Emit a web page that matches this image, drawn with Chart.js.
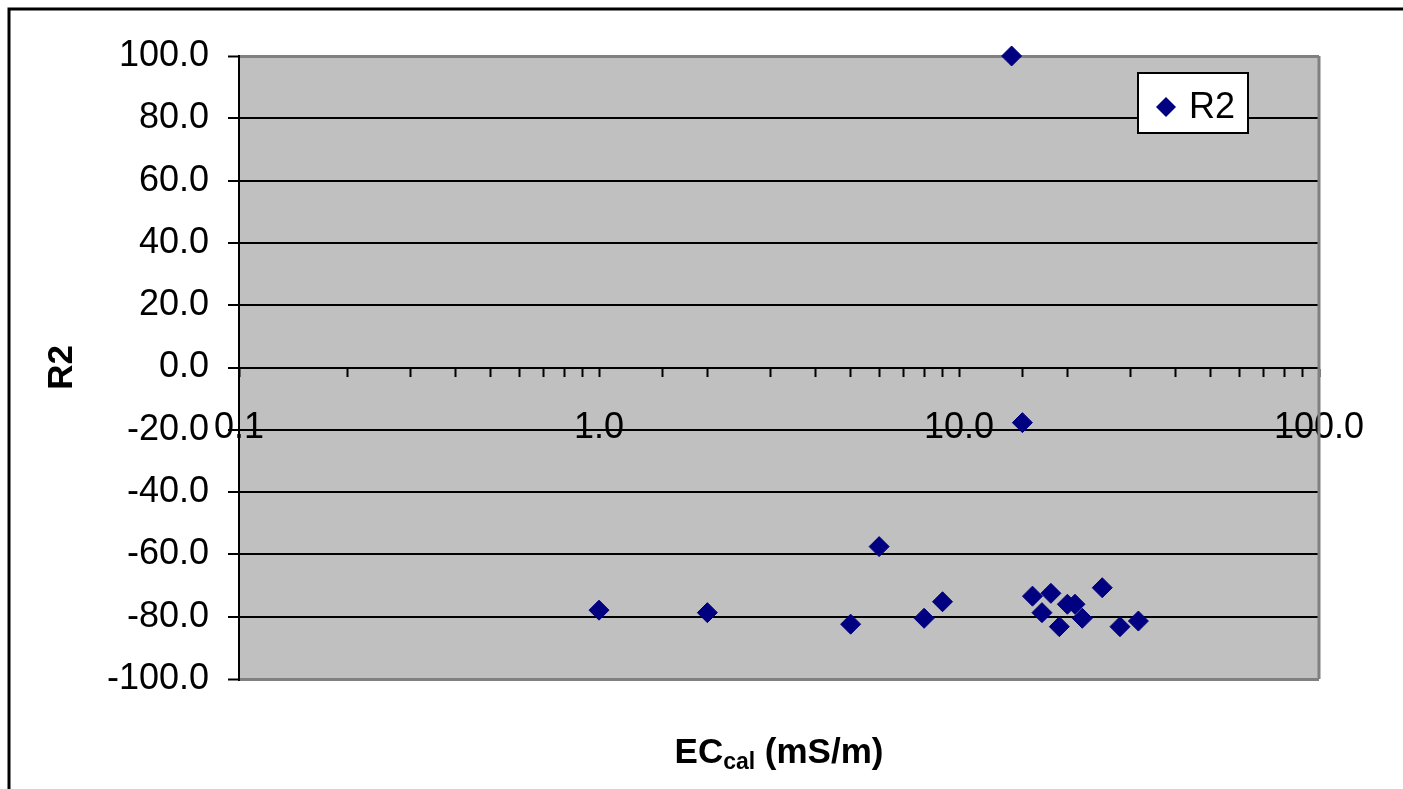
<!DOCTYPE html>
<html>
<head>
<meta charset="utf-8">
<script src="https://cdn.jsdelivr.net/npm/chart.js@4.4.0/dist/chart.umd.min.js"></script>
<style>
  html, body { margin: 0; padding: 0; background: #fff; }
  #wrap { width: 1403px; height: 789px; }
</style>
</head>
<body>
<div id="wrap"><canvas id="chart" width="1403" height="789"></canvas></div>
<script>
// values
var ecValues = [1.0, 2.0, 5.0, 6.0, 8.0, 9.0, 14.0, 15.0, 16.0, 17.0, 18.0, 19.0, 20.0, 21.0, 22.0, 25.0, 28.0, 31.5];
var r2Values = [-77.9, -78.7, -82.4, -57.5, -80.5, -75.2, 100.0, -17.7, -73.4, -78.7, -72.5, -83.2, -76.0, -76.0, -80.5, -70.7, -83.2, -81.4];
var seriesName = 'R2';
var yTitle = 'R2';
var xTitleMain = 'EC';
var xTitleSub = 'cal';
var xTitleUnit = ' (mS/m)';

var FONT = '"Liberation Sans", Arial, sans-serif';
var NAVY = '#000080';

var points = ecValues.map(function(x, i) { return { x: x, y: r2Values[i] }; });

var decor = {
  id: 'decor',
  beforeDraw: function(chart) {
    var c = chart.ctx, a = chart.chartArea;
    c.save();
    c.fillStyle = '#fff';
    c.fillRect(0, 0, chart.width, chart.height);
    c.fillStyle = '#c0c0c0';
    c.fillRect(a.left, a.top, a.right - a.left, a.bottom - a.top);
    // outer frame (top and left edges visible)
    c.strokeStyle = '#000';
    c.lineWidth = 3;
    c.beginPath();
    c.moveTo(9, chart.height);
    c.lineTo(9, 9);
    c.lineTo(chart.width, 9);
    c.stroke();
    c.restore();
  },
  beforeDatasetsDraw: function(chart) {
    var c = chart.ctx, a = chart.chartArea;
    c.save();
    c.strokeStyle = '#808080';
    c.lineWidth = 3;
    c.beginPath();
    c.moveTo(a.right, a.top);
    c.lineTo(a.right, a.bottom);
    c.stroke();
    c.restore();
  },
  afterDraw: function(chart) {
    var c = chart.ctx, a = chart.chartArea;
    c.save();
    // legend box
    c.fillStyle = '#fff';
    c.fillRect(1138, 73, 110, 60);
    c.strokeStyle = '#000';
    c.lineWidth = 2;
    c.strokeRect(1138, 73, 110, 60);
    c.fillStyle = NAVY;
    c.beginPath();
    c.moveTo(1166, 97);
    c.lineTo(1176, 107);
    c.lineTo(1166, 117);
    c.lineTo(1156, 107);
    c.closePath();
    c.fill();
    c.fillStyle = '#000';
    c.font = '36px ' + FONT;
    c.textBaseline = 'middle';
    c.textAlign = 'left';
    c.fillText(seriesName, 1189, 108);

    // x axis title with subscript
    var big = 'bold 35px ' + FONT, small = 'bold 23px ' + FONT;
    c.font = big;
    var w1 = c.measureText(xTitleMain).width;
    var w3 = c.measureText(xTitleUnit).width;
    c.font = small;
    var w2 = c.measureText(xTitleSub).width;
    var total = w1 + w2 + w3;
    var x0 = (a.left + a.right) / 2 - total / 2;
    var base = 763;
    c.textBaseline = 'alphabetic';
    c.font = big;
    c.fillText(xTitleMain, x0, base);
    c.font = small;
    c.fillText(xTitleSub, x0 + w1, base + 6);
    c.font = big;
    c.fillText(xTitleUnit, x0 + w1 + w2, base);

    // y axis title
    c.translate(62, (a.top + a.bottom) / 2);
    c.rotate(-Math.PI / 2);
    c.textAlign = 'center';
    c.textBaseline = 'middle';
    c.font = 'bold 35px ' + FONT;
    c.fillText(yTitle, 0, 0);
    c.restore();
  }
};

new Chart(document.getElementById('chart'), {
  type: 'scatter',
  data: {
    datasets: [{
      label: seriesName,
      data: points,
      pointStyle: 'rectRot',
      pointRadius: 10,
      pointHoverRadius: 10,
      backgroundColor: NAVY,
      borderColor: NAVY,
      borderWidth: 1,
      clip: false
    }]
  },
  options: {
    responsive: false,
    animation: false,
    devicePixelRatio: 1,
    layout: { padding: { top: 56, right: 84, left: 0, bottom: 110 } },
    plugins: {
      legend: { display: false },
      tooltip: { enabled: false }
    },
    scales: {
      x: {
        type: 'logarithmic',
        min: 0.1,
        max: 100,
        position: { y: 0 },
        grid: { drawOnChartArea: false, drawTicks: true, tickLength: 8, tickColor: '#000', tickWidth: 2 },
        border: { display: true, color: '#000', width: 2 },
        ticks: {
          autoSkip: false,
          maxRotation: 0,
          padding: 31,
          color: '#000',
          font: { family: FONT, size: 36 },
          callback: function(v) {
            var l = Math.log10(v);
            return Math.abs(l - Math.round(l)) < 1e-9 ? Number(v).toFixed(1) : '';
          }
        },
        afterFit: function(s) { s.height = 111; }
      },
      y: {
        min: -100,
        max: 100,
        grid: {
          color: function(ctx) {
            var v = ctx.tick && ctx.tick.value;
            return (v === 100 || v === -100) ? '#808080' : '#000';
          },
          lineWidth: function(ctx) {
            var v = ctx.tick && ctx.tick.value;
            return (v === 100 || v === -100) ? 3 : 2;
          },
          tickLength: 11,
          tickColor: '#000',
          tickWidth: 2
        },
        border: { display: true, color: '#000', width: 2 },
        ticks: {
          stepSize: 20,
          padding: 19,
          color: '#000',
          font: { family: FONT, size: 36 },
          callback: function(v) { return Number(v).toFixed(1); }
        },
        afterFit: function(s) { s.width = 239; }
      }
    }
  },
  plugins: [decor]
});
</script>
</body>
</html>
